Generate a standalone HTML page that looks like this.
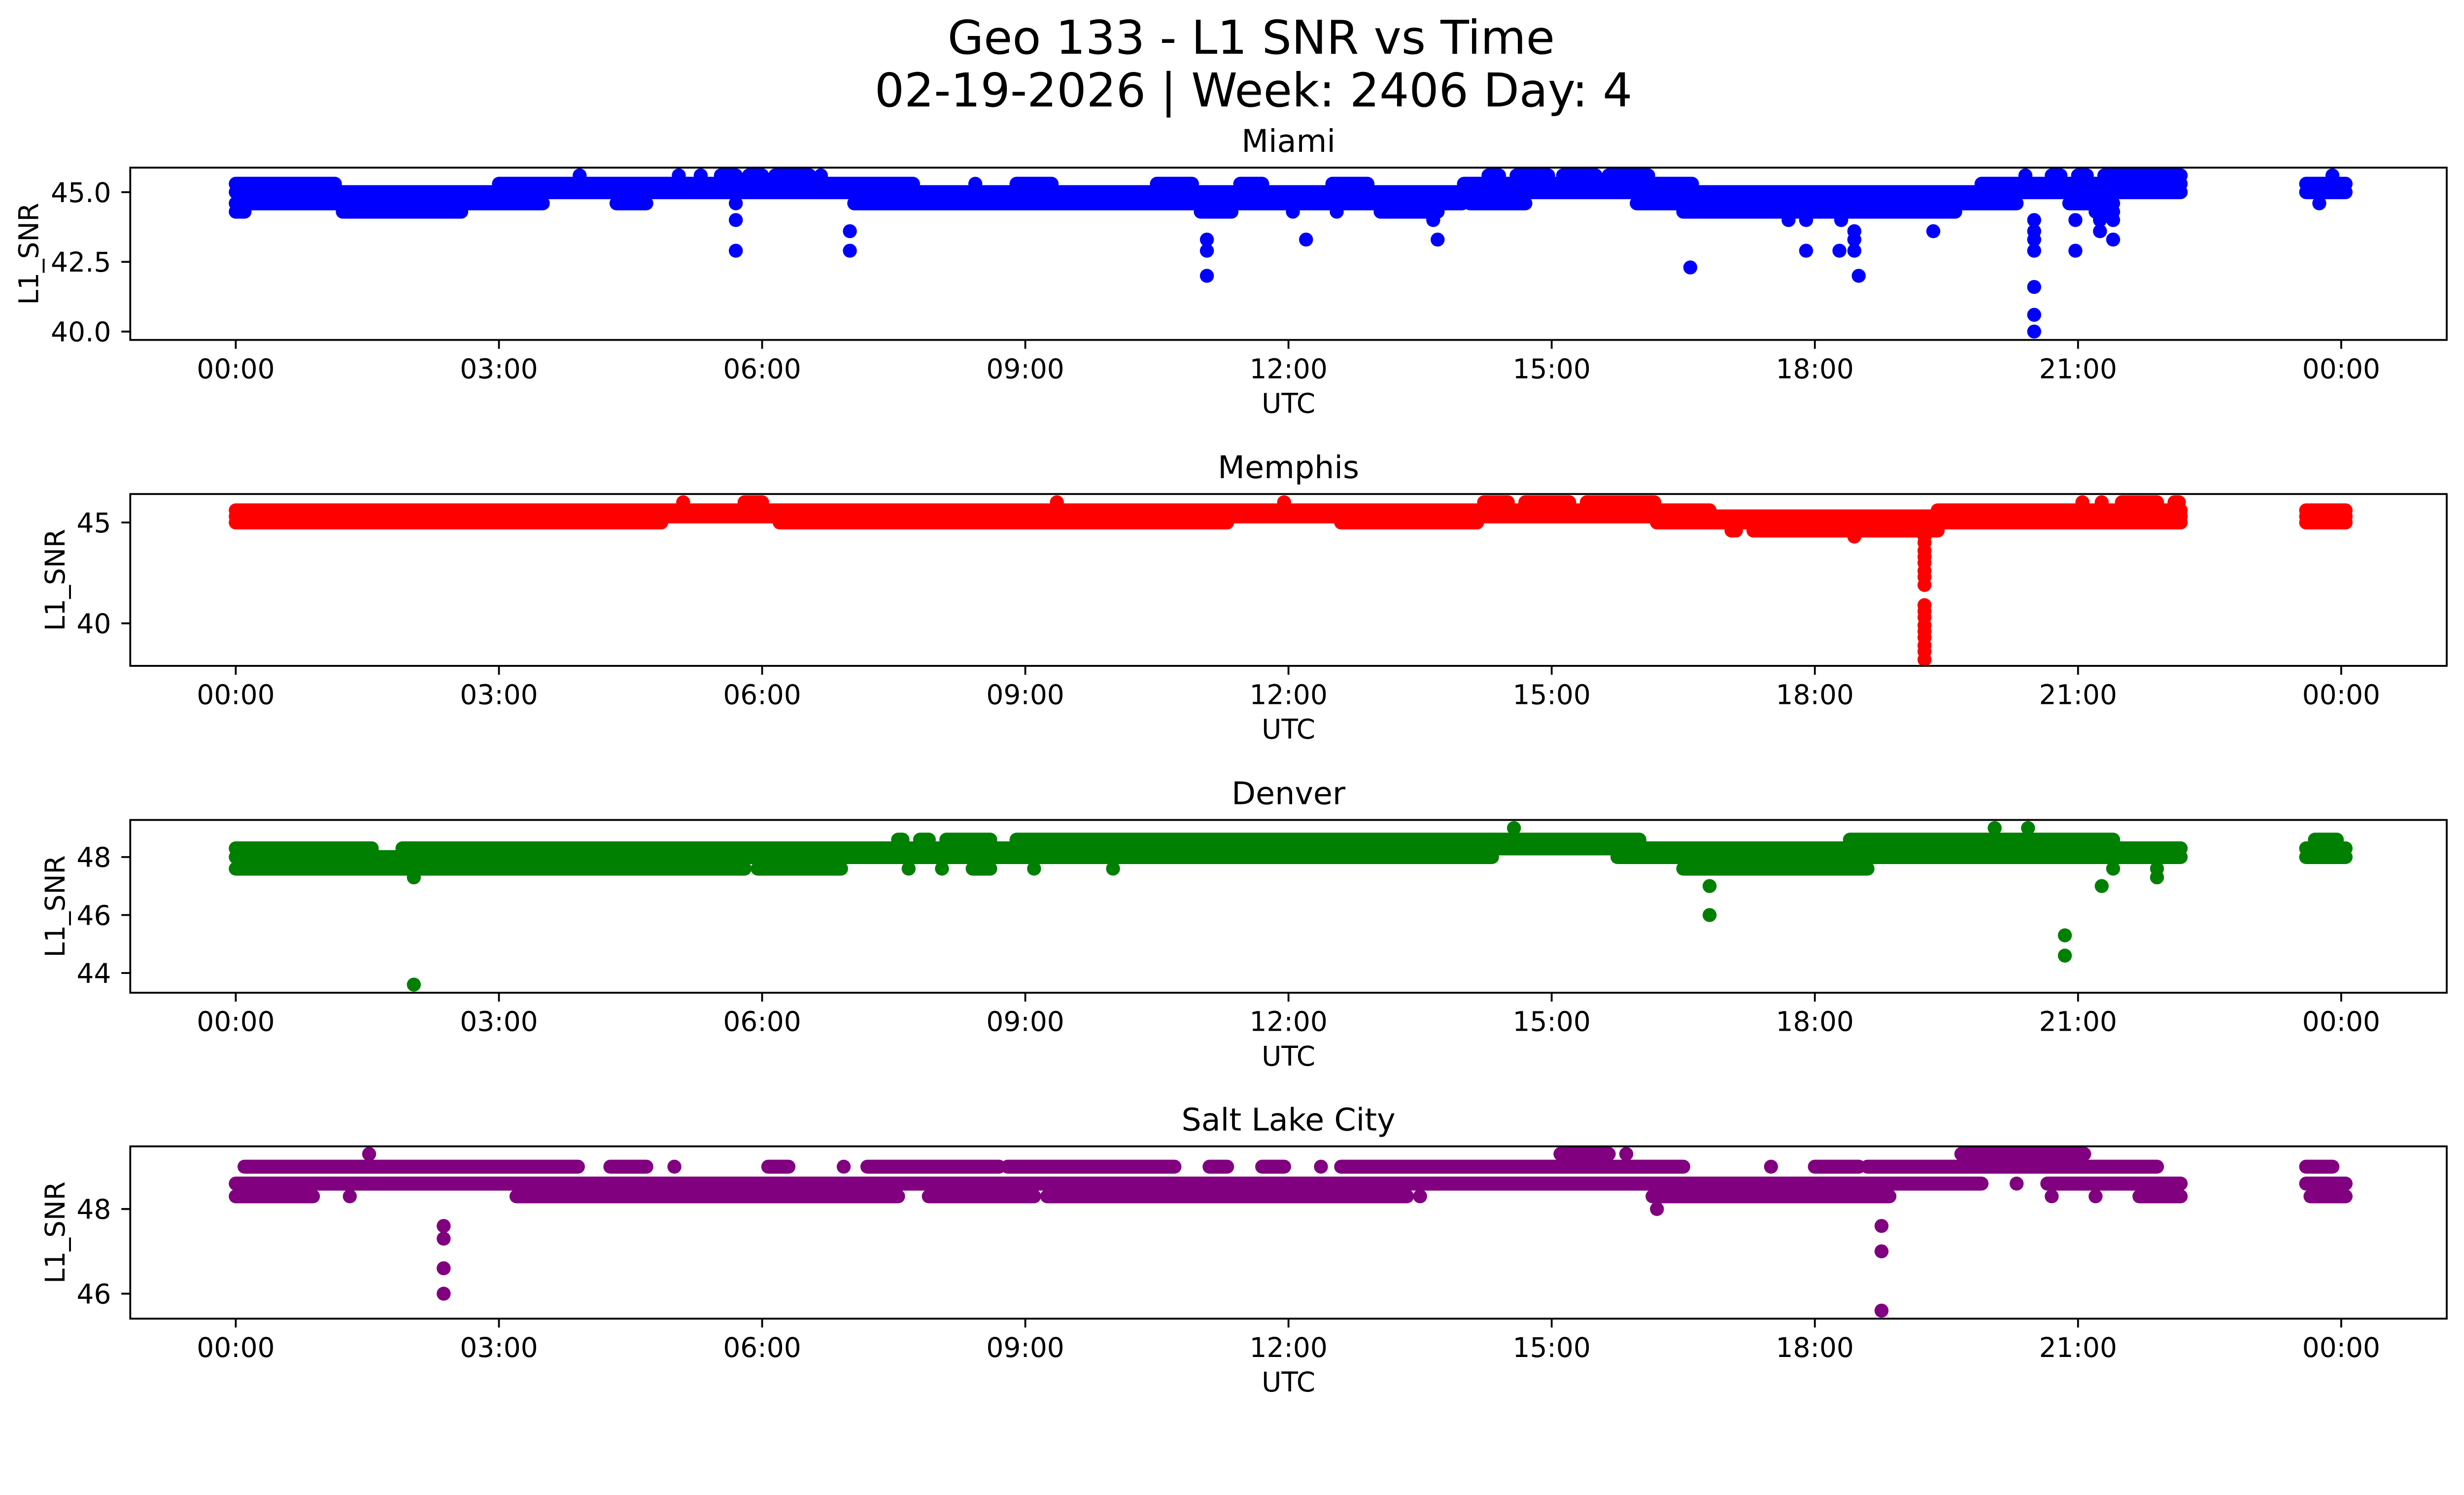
<!DOCTYPE html>
<html><head><meta charset="utf-8"><title>Geo 133 - L1 SNR vs Time</title>
<style>html,body{margin:0;padding:0;background:#fff;overflow:hidden}svg{display:block;width:100vw;height:auto;aspect-ratio:5278/3033}</style></head>
<body>
<svg id="fig" xmlns="http://www.w3.org/2000/svg" viewBox="0 0 5278 3033" preserveAspectRatio="xMidYMin meet" font-family="'DejaVu Sans','Liberation Sans',sans-serif">
<rect width="5278" height="3033" fill="#fff"/>
<text x="2680" y="115" font-size="100" text-anchor="middle">Geo 133 - L1 SNR vs Time</text>
<text x="2685" y="228" font-size="100" text-anchor="middle">02-19-2026 | Week: 2406 Day: 4</text>
</svg>
<script>
// shared x-axis
const xTickHours = [0,3,6,9,12,15,18,21,24];
const xTickLabels = ["00:00","03:00","06:00","09:00","12:00","15:00","18:00","21:00","00:00"];

// Miami
const miamiLevels = [45.6,45.3,45.0,44.6,44.3];
const miamiSpans = [
 [[3.92,3.92],[5.05,5.05],[5.3,5.3],[5.53,5.7],[5.85,6.0],[6.15,6.54],[6.67,6.67],[14.28,14.4],[14.6,14.96],[15.13,15.5],[15.65,16.1],[20.4,20.4],[20.7,20.8],[21.0,21.1],[21.3,22.17],[23.9,23.9]],
 [[0,1.13],[3.0,7.72],[8.43,8.43],[8.9,9.3],[10.5,10.9],[11.45,11.7],[12.5,12.9],[14.0,16.6],[19.9,22.17],[23.6,24.05]],
 [[0,22.17],[23.6,24.05]],
 [[0,3.5],[4.34,4.68],[5.7,5.7],[7.05,13.98],[14.07,14.7],[15.97,20.3],[20.9,21.4],[23.75,23.75]],
 [[0,0.1],[1.22,2.57],[11.0,11.35],[12.05,12.05],[12.55,12.55],[13.05,13.7],[16.5,19.6],[21.2,21.4]]
];
const miamiOutT = [5.7,13.65,17.7,17.9,18.3,20.5,20.97,21.25,21.4, 7.0,19.35,18.45,20.5,21.25, 11.07,12.2,13.7,18.45,21.4,20.5, 5.7,7.0,11.07,17.9,18.28,20.5,20.97,18.45, 16.58, 11.07,18.5, 20.5,20.5,20.5];
const miamiOutV = [44.0,44.0,44.0,44.0,44.0,44.0,44.0,44.0,44.0, 43.6,43.6,43.6,43.6,43.6, 43.3,43.3,43.3,43.3,43.3,43.3, 42.9,42.9,42.9,42.9,42.9,42.9,42.9,42.9, 42.3, 42.0,42.0, 41.6,40.6,40.0];

// Memphis
const memphisLevels = [46.0,45.6,45.3,45.0,44.6];
const memphisSpans = [
 [[5.1,5.1],[5.8,6.0],[9.36,9.36],[11.95,11.95],[14.23,14.5],[14.7,15.2],[15.4,16.17],[21.05,21.05],[21.27,21.27],[21.5,21.9],[22.1,22.15]],
 [[0,16.8],[19.4,22.17],[23.6,24.05]],
 [[0,22.17],[23.6,24.05]],
 [[0,4.85],[6.2,11.3],[12.6,14.15],[16.2,22.17],[23.6,24.05]],
 [[17.05,17.1],[17.3,19.4]]
];
const memphisOutT = [18.45,19.25,19.25,19.25,19.25,19.25,19.25,19.25,19.25,19.25,19.25,19.25,19.25,19.25,19.25,19.25,19.25,19.25];
const memphisOutV = [44.3,44.3,44.0,43.6,43.3,43.0,42.6,42.3,41.9,40.9,40.6,40.3,39.9,39.6,39.3,38.9,38.6,38.2];

// Denver
const denverLevels = [48.6,48.3,48.0,47.6];
const denverSpans = [
 [[7.55,7.6],[7.8,7.9],[8.1,8.6],[8.9,14.3],[14.3,16.0],[18.4,21.4],[23.7,23.95]],
 [[0,1.55],[1.9,22.17],[23.6,24.05]],
 [[0,14.32],[15.75,22.17],[23.6,24.05]],
 [[0,5.8],[5.95,6.9],[7.67,7.67],[8.05,8.05],[8.4,8.6],[9.1,9.1],[10.0,10.0],[16.5,18.6],[21.4,21.4],[21.9,21.9]]
];
const denverOutT = [2.03,21.9,16.8,21.27,16.8,20.85,20.85,2.03,14.57,20.05,20.43];
const denverOutV = [47.3,47.3,47.0,47.0,46.0,45.3,44.6,43.6,49.0,49.0,49.0];

// Salt Lake City
const slcLevels = [49.3,49.0,48.6,48.3];
const slcSpans = [
 [[1.52,1.52],[15.1,15.65],[15.85,15.85],[19.67,21.07]],
 [[0.1,3.9],[4.27,4.68],[5.0,5.0],[6.07,6.3],[6.93,6.93],[7.2,8.7],[8.8,10.7],[11.1,11.3],[11.7,11.95],[12.37,12.37],[12.6,16.5],[17.5,17.5],[18.0,18.5],[18.6,21.9],[23.6,23.9]],
 [[0,19.9],[20.3,20.3],[20.65,22.17],[23.6,24.05]],
 [[0,0.88],[1.3,1.3],[3.2,7.55],[7.9,9.1],[9.25,13.35],[13.5,13.5],[16.15,18.85],[20.7,20.7],[21.2,21.2],[21.7,22.17],[23.65,24.05]]
];
const slcOutT = [16.2,2.37,18.76,2.37,18.76,2.37,2.37,18.76];
const slcOutV = [48.0,47.6,47.6,47.3,47.0,46.6,46.0,45.6];

const panels = [
 {name:"miami",title:"Miami",color:"#0000ff",top:359,bottom:728,ymin:39.70,ymax:45.88,ticks:[40.0,42.5,45.0],fmt:1,labelX:62,levels:miamiLevels,spans:miamiSpans,ot:miamiOutT,ov:miamiOutV},
 {name:"memphis",title:"Memphis",color:"#ff0000",top:1058,bottom:1426,ymin:37.89,ymax:46.41,ticks:[40,45],fmt:0,labelX:118,levels:memphisLevels,spans:memphisSpans,ot:memphisOutT,ov:memphisOutV},
 {name:"denver",title:"Denver",color:"#008000",top:1756,bottom:2126,ymin:43.32,ymax:49.28,ticks:[44,46,48],fmt:0,labelX:118,levels:denverLevels,spans:denverSpans,ot:denverOutT,ov:denverOutV},
 {name:"salt-lake-city",title:"Salt Lake City",color:"#800080",top:2455,bottom:2824,ymin:45.41,ymax:49.48,ticks:[46,48],fmt:0,labelX:118,levels:slcLevels,spans:slcSpans,ot:slcOutT,ov:slcOutV}
];

const NS="http://www.w3.org/2000/svg";
const svg=document.getElementById('fig');
const L=279,R=5241,X0=505,PXH=563.75/3,RAD=15;
const xs=h=>X0+h*PXH;
function mk(tag,attrs,parent){const e=document.createElementNS(NS,tag);for(const k in attrs)e.setAttribute(k,attrs[k]);(parent||svg).appendChild(e);return e;}

panels.forEach(p=>{
  const ys=v=>p.bottom-(v-p.ymin)/(p.ymax-p.ymin)*(p.bottom-p.top);
  const g=mk('g',{});
  
  
  const clipId='clip-'+p.name;
  const cp=mk('clipPath',{id:clipId},g);
  mk('rect',{x:L,y:p.top,width:R-L,height:p.bottom-p.top},cp);
  const marks=mk('g',{'clip-path':'url(#'+clipId+')'},g);
  
  
  p.levels.forEach((v,i)=>{
    p.spans[i].forEach(s=>{
      const ln=mk('line',{x1:xs(s[0]),x2:xs(s[1]),y1:ys(v),y2:ys(v),stroke:p.color,'stroke-width':2*RAD,'stroke-linecap':'round'},marks);
      
      
    });
  });
  p.ot.forEach((t,i)=>{
    const c=mk('circle',{cx:xs(t),cy:ys(p.ov[i]),r:RAD,fill:p.color},marks);
    
    
  });
  const fr=mk('rect',{x:L,y:p.top,width:R-L,height:p.bottom-p.top,fill:'none',stroke:'#000','stroke-width':4},g);
  
  
  p.ticks.forEach(v=>{
    const y=ys(v);
    mk('line',{x1:L-19,x2:L,y1:y,y2:y,stroke:'#000','stroke-width':4},g);
    const t=mk('text',{x:238,y:y+21,'font-size':58,'text-anchor':'end'},g);
    t.textContent=v.toFixed(p.fmt);
    
    
  });
  xTickHours.forEach((h,i)=>{
    const x=xs(h);
    mk('line',{x1:x,x2:x,y1:p.bottom,y2:p.bottom+19,stroke:'#000','stroke-width':4},g);
    const t=mk('text',{x:x,y:p.bottom+82,'font-size':58,'text-anchor':'middle'},g);
    t.textContent=xTickLabels[i];
    
    
  });
  const xl=mk('text',{x:(L+R)/2,y:p.bottom+156,'font-size':58,'text-anchor':'middle'},g);
  xl.textContent='UTC';
  
  
  const yc=(p.top+p.bottom)/2;
  const yl=mk('text',{x:p.labelX,y:yc,'font-size':58,'text-anchor':'middle','dominant-baseline':'central',transform:'rotate(-90 '+p.labelX+' '+yc+')'},g);
  yl.textContent='L1_SNR';
  
  
  const tt=mk('text',{x:(L+R)/2,y:p.top-34,'font-size':67,'text-anchor':'middle'},g);
  tt.textContent=p.title;
  
  
});
</script>
</body></html>
